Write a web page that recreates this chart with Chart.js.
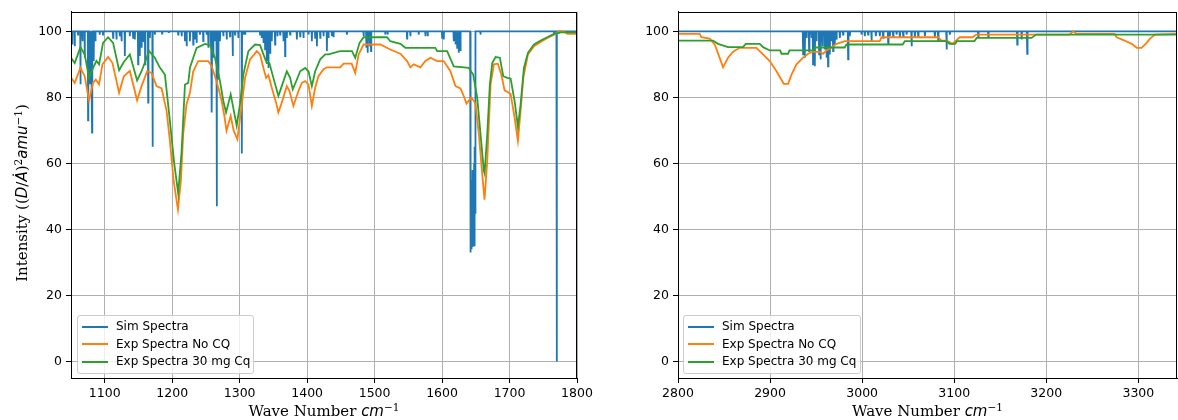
<!DOCTYPE html>
<html>
<head>
<meta charset="utf-8">
<script src="https://cdn.jsdelivr.net/npm/chart.js@4.4.0/dist/chart.umd.min.js"></script>
<style>
  body { margin: 0; background: #fff; }
  #fig { position: relative; width: 1178px; height: 420px; overflow: hidden; background: #fff; }
  .panel { position: absolute; top: 0; }
  .xtitle { position: absolute; top: 402px; height: 18px; line-height: 18px; font: 15px 'DejaVu Serif'; text-align: center; white-space: nowrap; color: #000; }
  .ytitle { position: absolute; left: -108px; top: 184px; width: 260px; height: 18px; line-height: 18px; font: 15px 'DejaVu Serif'; text-align: center; white-space: nowrap; transform: rotate(-90deg); color: #000; }
  .m { font-family: 'DejaVu Sans'; font-style: italic; }
  sup { font-size: 70%; line-height: 0; vertical-align: 0.5em; }
  .legend { position: absolute; top: 315px; height: 55px; padding-top: 2px; box-sizing: content-box; border: 1px solid #cccccc; border-radius: 3px; background: rgba(255,255,255,0.8); font: 12px 'DejaVu Sans'; color: #000; }
  .legend div { height: 17.5px; line-height: 17.5px; white-space: nowrap; }
  .legend span { display: inline-block; width: 26px; height: 2px; vertical-align: middle; margin: 0 8px 0 4px; }
</style>
</head>
<body>
<div id="fig">
  <canvas id="left" class="panel" style="left:0" width="600" height="420"></canvas>
  <canvas id="right" class="panel" style="left:600px" width="578" height="420"></canvas>

  <div class="ytitle">Intensity ((<span class="m">D</span>/<span class="m">Ȧ</span>)<sup>2</sup><span class="m">amu</span><sup>−1</sup>)</div>
  <div class="xtitle" style="left:71px;width:506px">Wave Number <span class="m">cm</span><sup>−1</sup></div>
  <div class="xtitle" style="left:678px;width:499px">Wave Number <span class="m">cm</span><sup>−1</sup></div>

  <div class="legend" id="legLeft" style="left:77px;width:175px"></div>
  <div class="legend" id="legRight" style="left:683px;width:176px"></div>
</div>

<script>
// ticks
const xTicksLeft = [1100, 1200, 1300, 1400, 1500, 1600, 1700, 1800];
const xTicksRight = [2800, 2900, 3000, 3100, 3200, 3300];
const yTicks = [0, 20, 40, 60, 80, 100];
const seriesNames = ['Sim Spectra', 'Exp Spectra No CQ', 'Exp Spectra 30 mg Cq'];

// simulated spectrum, 1050-1800
const simLeft = [
  [1050,100],
  [1051.6,100],[1052,96],[1052.4,100],
  [1055.1,100],[1055.5,95.5],[1055.9,100],
  [1060,100],[1060.4,99],[1060.8,100],
  [1063.6,100],[1064,84],[1064.4,100],
  [1066.6,100],[1067,97],[1067.4,100],
  [1069.9,100],[1070.3,92],[1070.7,100],
  [1074.9,100],[1075.3,73],[1075.7,100],
  [1077.4,100],[1077.8,84],[1078.2,100],
  [1078.9,100],[1079.3,90],[1079.7,100],
  [1080.8,100],[1081.2,69.3],[1081.6,100],
  [1083.3,100],[1083.7,91],[1084.1,100],
  [1085.8,100],[1086.2,97],[1086.6,100],
  [1092.2,100],[1092.6,99],[1093,100],
  [1097.1,100],[1097.5,99],[1097.9,100],
  [1112,100],[1112.4,98],[1112.8,100],
  [1117,100],[1117.4,97.5],[1117.8,100],
  [1121.9,100],[1122.3,98.5],[1122.7,100],
  [1124.5,100],[1124.9,97],[1125.3,100],
  [1129.4,100],[1129.8,92.5],[1130.2,100],
  [1136.8,100],[1137.2,98.5],[1137.6,100],
  [1141.7,100],[1142.1,98],[1142.5,100],
  [1144.2,100],[1144.6,97.5],[1145,100],
  [1149.1,100],[1149.5,90],[1149.9,100],
  [1151.6,100],[1152,92.5],[1152.4,100],
  [1154.2,100],[1154.6,95],[1155,100],
  [1156.5,100],[1156.9,97],[1157.3,100],
  [1159.5,100],[1159.9,90],[1160.3,100],
  [1164,100],[1164.4,78.4],[1164.8,100],
  [1166.5,100],[1166.9,98],[1167.3,100],
  [1170.5,100],[1170.9,65],[1171.3,100],
  [1173.9,100],[1174.3,99],[1174.7,100],
  [1184.6,100],[1185,99.3],[1185.4,100],
  [1194.6,100],[1195,99.5],[1195.4,100],
  [1208.5,100],[1208.9,99],[1209.3,100],
  [1213.6,100],[1214,98.5],[1214.4,100],
  [1218.5,100],[1218.9,97],[1219.3,100],
  [1221,100],[1221.4,95.5],[1221.8,100],
  [1225.9,100],[1226.3,97],[1226.7,100],
  [1230.8,100],[1231.2,96],[1231.6,100],
  [1233.3,100],[1233.7,97.5],[1234.1,100],
  [1235.8,100],[1236.2,96.5],[1236.6,100],
  [1240.7,100],[1241.1,99],[1241.5,100],
  [1245.6,100],[1246,97],[1246.4,100],
  [1250.7,100],[1251.1,99],[1251.5,100],
  [1253.1,100],[1253.5,95],[1253.9,100],
  [1256.6,100],[1257,96],[1257.7,100],[1258.5,75.4],[1259.2,100],
  [1260.5,100],[1260.9,92],[1261.3,100],
  [1263,100],[1263.4,97],[1263.8,100],
  [1265.6,100],[1266,47],[1266.4,100],
  [1268,100],[1268.4,85.4],[1268.8,100],
  [1270.4,100],[1270.8,97],[1271.2,100],
  [1275.4,100],[1275.8,98.5],[1276.2,100],
  [1280.4,100],[1280.8,97.5],[1281.2,100],
  [1285.3,100],[1285.7,98.5],[1286.1,100],
  [1289.3,100],[1289.7,92.5],[1290.1,100],
  [1292.7,100],[1293.1,99],[1293.5,100],
  [1297.6,100],[1298,98],[1298.4,100],
  [1302.8,100],[1303.2,63],[1303.6,100],
  [1305.1,100],[1305.5,99],[1305.9,100],
  [1307.6,100],[1308,99.2],[1308.4,100],
  [1329.9,100],[1330.3,99],[1330.7,100],
  [1332.4,100],[1332.8,98],[1333.2,100],
  [1334.8,100],[1335.2,96.5],[1335.6,100],
  [1337.3,100],[1337.7,94.5],[1338.1,100],
  [1339.8,100],[1340.2,91],[1340.6,100],
  [1342.2,100],[1342.6,88.9],[1343,100],
  [1344.7,100],[1345.1,93.5],[1345.5,100],
  [1347.2,100],[1347.6,97],[1348,100],
  [1352.1,100],[1352.5,96],[1352.9,100],
  [1355.6,100],[1356,98.5],[1356.4,100],
  [1359.6,100],[1360,99],[1360.4,100],
  [1364.5,100],[1364.9,97],[1365.3,100],
  [1367,100],[1367.4,92.5],[1367.8,100],
  [1369.5,100],[1369.9,98],[1370.3,100],
  [1374.4,100],[1374.8,99],[1375.2,100],
  [1384.4,100],[1384.8,97.5],[1385.2,100],
  [1389.3,100],[1389.7,98.5],[1390.1,100],
  [1394.2,100],[1394.6,98],[1395,100],
  [1401.6,100],[1402,99],[1402.4,100],
  [1406.6,100],[1407,97],[1407.4,100],
  [1411.5,100],[1411.9,98],[1412.3,100],
  [1414.1,100],[1414.5,95.5],[1414.9,100],
  [1419,100],[1419.4,98],[1419.8,100],
  [1423.9,100],[1424.3,98.5],[1424.7,100],
  [1428.9,100],[1429.3,94],[1429.7,100],
  [1431.3,100],[1431.7,98],[1432.1,100],
  [1436.3,100],[1436.7,98.5],[1437.1,100],
  [1438.7,100],[1439.1,98.2],[1439.5,100],
  [1458.6,100],[1459,99],[1459.4,100],
  [1483.3,100],[1483.7,98.5],[1484.1,100],
  [1487.3,100],[1487.7,95],[1488.1,100],
  [1489.2,100],[1489.6,93.5],[1490,100],
  [1492.2,100],[1492.6,95.5],[1493,100],
  [1494.3,100],[1494.7,94],[1495.1,100],
  [1515.5,100],[1515.9,99],[1516.3,100],
  [1518.9,100],[1519.3,99],[1519.7,100],
  [1547.7,100],[1548.1,97.8],[1548.5,100],
  [1552.6,100],[1553,98.5],[1553.4,100],
  [1565,100],[1565.4,99],[1565.8,100],
  [1574.9,100],[1575.3,98.5],[1575.7,100],
  [1578.3,100],[1578.7,98.5],[1579.1,100],
  [1599.7,100],[1600.1,98],[1600.5,100],
  [1602.1,100],[1602.5,97.5],[1602.9,100],
  [1616.9,100],[1617.3,97],[1617.7,100],
  [1619.5,100],[1619.9,96],[1620.3,100],
  [1622,100],[1622.4,95],[1622.8,100],
  [1624.4,100],[1624.8,93.5],[1625.2,100],
  [1626.9,100],[1627.3,94],[1627.7,100],
  [1641.6,100],[1642,33],[1642.5,60],[1643,36],[1643.5,55],[1644,34],[1644.5,52],[1645,40],
  [1645.5,58],[1646,35],[1646.5,55],[1647,38],[1647.5,60],[1648,35],[1648.5,65],[1649,45],[1649.5,100],
  [1656.6,100],[1657,99],[1657.4,100],
  [1765.6,100],[1766,99.5],[1766.4,100],
  [1769.5,100],[1769.9,0],[1770.3,100],
  [1771.6,100],[1772,99.5],[1772.4,100],
  [1800,100]
];

// experiment without CQ, 1050-1800
const noCqLeft = [
  [1050,86],[1055.5,84.4],[1064,89],[1070.3,86.4],[1076.7,79.1],[1082.7,84.4],[1086.7,85.4],
  [1091.6,83.9],[1096.6,90],[1105,92.2],[1111.5,90.4],[1121.3,81.4],[1128.3,86.4],[1137.2,88],
  [1148,79.1],[1154.6,83.4],[1162.9,87.9],[1169.4,87.4],[1176.8,83.4],[1184.3,82.7],[1191.7,75.9],
  [1196.6,66.8],[1202,55],[1208.5,46],[1213,55],[1216.3,68.9],[1221.3,78],[1226.3,81.4],
  [1231.2,87.9],[1238.6,91],[1253.5,91],[1258.5,89.4],[1263.4,86.4],[1268.4,82.9],[1273.3,78.9],
  [1277.3,74.4],[1280.5,69.9],[1286.7,74.4],[1291,70],[1296.6,67.3],[1303.1,77.9],[1308,85.9],
  [1315.4,91.5],[1325.4,94],[1330.3,93],[1335.2,88.9],[1339.2,85.9],[1342.6,86.7],[1347.6,82.9],
  [1354,78.4],[1357.4,75.4],[1362.4,78.4],[1369.9,83.4],[1373.8,81.9],[1379.7,77.4],[1387.1,81.9],
  [1392.2,84.4],[1397.1,84.9],[1402,83.9],[1407,77.4],[1411.9,82.9],[1416.8,86.4],[1424.3,88.5],
  [1429.3,89.1],[1449,89.1],[1454,90.2],[1466,90.2],[1471.3,87.4],[1476.3,93],[1483.7,96],
  [1508.5,96],[1523.3,94.5],[1538.2,93.2],[1548.1,91],[1553,89.1],[1558,90],[1567.9,89.1],
  [1575.3,91],[1582.7,92],[1592.7,91],[1602.5,91],[1612.4,87.9],[1619.9,83.4],[1627.3,82.7],
  [1632.2,80.4],[1636.2,78.1],[1643.2,79.9],[1647.1,79],[1649.6,77.9],[1654.5,68.9],[1659.5,56.8],
  [1662.9,49],[1667,60.8],[1671.9,83.9],[1676.8,90],[1682.7,90.2],[1687.8,86.9],[1692.7,82.1],
  [1701.6,81.1],[1707.5,73.9],[1712.4,66.8],[1716.4,75.9],[1720.4,85.9],[1727.3,93],[1736.2,95.5],
  [1746.1,96.8],[1756,98],[1765.9,99],[1773.3,100],[1780,100],[1785.8,99.2],[1800,99.2]
];

// experiment with 30 mg CQ, 1050-1800
const cqLeft = [
  [1050,92],[1055.5,90.4],[1064,95.2],[1070.3,93],[1076.7,85.9],[1082.7,88.9],[1087.7,91],
  [1091.6,90],[1097.5,96.5],[1105,98.2],[1112.4,96.5],[1121.3,88.2],[1128.3,90.7],[1137.2,93],
  [1148,85.1],[1154.6,87.9],[1165.9,94],[1174.3,92],[1181.7,89],[1189.2,86.9],[1196.6,72.9],
  [1203,60],[1208.9,50.9],[1214,63.8],[1218.9,83.9],[1223.8,84.4],[1226.3,89],[1231.2,92],
  [1236.2,95],[1248.6,96.2],[1256,95.8],[1263.4,92],[1270.8,84.9],[1275.8,78.9],[1279.8,75.4],
  [1286.7,80.9],[1295.6,71.4],[1300.5,78],[1305.5,86.9],[1312.9,94],[1322.8,96],[1330.3,95.8],
  [1335.2,93],[1340.2,90.4],[1344,90.4],[1350,85.9],[1357.4,80.4],[1362.4,83.4],[1369.9,87.9],
  [1374.8,85.9],[1378.7,82.4],[1384.8,85.4],[1389.7,87.9],[1397.1,88.9],[1402,87.9],[1407,83.4],
  [1411.9,87.9],[1419.4,91.5],[1426.8,93],[1431.7,93],[1449,94],[1466.4,94],[1471.3,92],
  [1477.7,96.5],[1483.7,98.2],[1518.4,98.2],[1523.3,97],[1538.2,96.2],[1545.7,95],[1590,95],
  [1592.7,94],[1607.5,94],[1611.4,92.2],[1617.3,89.4],[1639.6,88.9],[1646.1,86.9],[1652.1,79.9],
  [1657,68.9],[1661.9,57.8],[1663,57],[1667,68.9],[1670.8,83.9],[1674.4,90.4],[1679.3,92.2],
  [1685.7,92],[1690.7,86.4],[1696.6,85.9],[1701.6,85.7],[1707.5,78.9],[1712.4,71.1],[1716.4,77.9],
  [1721.3,88.9],[1727.3,93.5],[1736.2,96],[1746.1,97.2],[1756,98.2],[1765.9,99.2],[1775.8,99.7],
  [1800,99.7]
];

// simulated spectrum, 2800-3342
const simRight = [
  [2800,100],
  [2935.5,100],[2935.9,93],[2936.3,100],
  [2937.3,100],[2937.7,92],[2938.1,100],
  [2939.2,100],[2939.6,98],[2940,100],
  [2942,100],[2942.4,94],[2942.8,100],
  [2944.6,100],[2945,98],[2945.4,100],
  [2946.3,100],[2946.7,90],[2947.1,100],
  [2948.2,100],[2948.6,89.4],[2949,100],
  [2950,100],[2950.4,97],[2950.8,100],
  [2952.9,100],[2953.3,93],[2953.7,100],
  [2954.4,100],[2954.8,91.5],[2955.2,100],
  [2956.6,100],[2957,95.5],[2957.4,100],
  [2959.1,100],[2959.5,94.5],[2959.9,100],
  [2960.9,100],[2961.3,92],[2961.7,100],
  [2962.6,100],[2963,89.4],[2963.4,100],
  [2964.5,100],[2964.9,93],[2965.3,100],
  [2966.3,100],[2966.7,97],[2967.1,100],
  [2968.1,100],[2968.5,94],[2968.9,100],
  [2969.9,100],[2970.3,96],[2970.7,100],
  [2971.8,100],[2972.2,97.5],[2972.6,100],
  [2975.4,100],[2975.8,98],[2976.2,100],
  [2978.9,100],[2979.3,99],[2979.7,100],
  [2984.4,100],[2984.8,91.5],[2985.2,100],
  [2986.2,100],[2986.6,98.5],[2987,100],
  [2998.9,100],[2999.3,99],[2999.7,100],
  [3002.5,100],[3002.9,98.5],[3003.3,100],
  [3006.1,100],[3006.5,99],[3006.9,100],
  [3009.8,100],[3010.2,97],[3010.6,100],
  [3014.5,100],[3014.9,98.5],[3015.3,100],
  [3018.8,100],[3019.2,98.5],[3019.6,100],
  [3022.4,100],[3022.8,98],[3023.2,100],
  [3027.9,100],[3028.3,96.2],[3028.7,100],
  [3029.7,100],[3030.1,98.5],[3030.5,100],
  [3033.3,100],[3033.7,98.5],[3034.1,100],
  [3037,100],[3037.4,99],[3037.8,100],
  [3040.6,100],[3041,98],[3041.4,100],
  [3044.2,100],[3044.6,98.5],[3045,100],
  [3047.9,100],[3048.3,99],[3048.7,100],
  [3053.3,100],[3053.7,95.5],[3054.1,100],
  [3056.9,100],[3057.3,98],[3057.7,100],
  [3060.5,100],[3060.9,98.5],[3061.3,100],
  [3067.8,100],[3068.2,98.5],[3068.6,100],
  [3078.6,100],[3079,98],[3079.4,100],
  [3082.2,100],[3082.6,97.3],[3083,100],
  [3091.3,100],[3091.7,94.5],[3092.1,100],
  [3094.9,100],[3095.3,99],[3095.7,100],
  [3125.7,100],[3126.1,98.5],[3126.5,100],
  [3136.6,100],[3137,98.5],[3137.4,100],
  [3168.1,100],[3168.5,96],[3168.9,100],
  [3172.9,100],[3173.3,97.5],[3173.7,100],
  [3178.9,100],[3179.3,93.2],[3179.7,100],
  [3342,100]
];

// experiment without CQ, 2800-3342
const noCqRight = [
  [2800,99.2],[2823.6,99.2],[2825.4,98.2],[2834.5,97.8],[2839.9,96],[2844.6,92.5],[2848.9,89.1],
  [2854.3,92],[2859.8,93.8],[2867.1,95],[2885.2,95],[2890.7,93.5],[2899.7,91],[2907,87.9],
  [2914.9,84.1],[2919.6,84.1],[2923.3,86.9],[2928.7,90],[2935.9,92],[2941.3,93.2],[2946.7,93.8],
  [2954,93.8],[2957.6,93.2],[2961.3,94.2],[2968.5,95.5],[2972.2,96.2],[2981.2,97],[3019.2,97],
  [3021.1,98.2],[3082.6,98.2],[3086,97.2],[3092,97.2],[3098,96.2],[3102,97.2],[3106,98.2],
  [3120,98.2],[3124,99],[3225,99],[3229.3,100],[3233,99.2],[3274,99.2],[3276.5,98.2],[3285,97.2],
  [3292.8,96.2],[3298.3,95],[3303.5,95],[3308,96.2],[3312.7,97.8],[3318.2,99],[3342,99.2]
];

// experiment with 30 mg CQ, 2800-3342
const cqRight = [
  [2800,97.2],[2838,97.2],[2843.5,96.2],[2854.3,95.2],[2870.6,95.2],[2873.6,96.2],[2888.8,96.2],
  [2892.4,95.2],[2899.7,94.2],[2911,94.2],[2912.4,93.2],[2919.6,93.2],[2921,94.2],[2946.7,94.2],
  [2948.6,95.1],[2981,95.1],[2983,96],[3044,96],[3046.4,97],[3091.7,97],[3095,96.2],[3101,96.2],
  [3103,97],[3122,97],[3124.4,98],[3184,98],[3189,99],[3342,99]
];

const colors = ['#1f77b4', '#ff7f0e', '#2ca02c'];

// outer black frame like matplotlib spines
const framePlugin = {
  id: 'frame',
  afterDraw(chart) {
    const { ctx, chartArea: a } = chart;
    ctx.save();
    ctx.strokeStyle = '#000';
    ctx.lineWidth = 1;
    ctx.strokeRect(Math.round(a.left) + 0.5, Math.round(a.top) + 0.5,
      Math.round(a.right - a.left) - 1, Math.round(a.bottom - a.top) - 1);
    ctx.restore();
  }
};

function toPoints(arr) {
  return arr.map(p => ({ x: p[0], y: p[1] }));
}

function makeChart(id, xMin, xMax, xTicks, yWidth, padRight, sim, noCq, cq) {
  const series = [sim, noCq, cq];
  new Chart(document.getElementById(id), {
    type: 'line',
    data: {
      datasets: series.map((s, i) => ({
        label: seriesNames[i],
        data: toPoints(s),
        borderColor: colors[i],
        backgroundColor: colors[i],
        borderWidth: 1.8,
        pointRadius: 0,
        tension: 0,
        fill: false,
        order: 3 - i
      }))
    },
    options: {
      responsive: false,
      animation: false,
      devicePixelRatio: 1,
      layout: { padding: { top: 10, right: padRight, bottom: 0, left: 0 } },
      plugins: { legend: { display: false }, tooltip: { enabled: false } },
      scales: {
        x: {
          type: 'linear',
          min: xMin,
          max: xMax,
          afterBuildTicks: s => { s.ticks = xTicks.map(v => ({ value: v })); },
          afterFit: s => { s.height = 42; },
          grid: { color: '#b0b0b0', lineWidth: 1, tickLength: 5, tickColor: '#000' },
          border: { color: '#000', width: 1 },
          ticks: { color: '#000', font: { family: 'DejaVu Sans', size: 12.5 }, padding: 3, maxRotation: 0, autoSkip: false,
                   callback: v => String(v) }
        },
        y: {
          type: 'linear',
          min: -5,
          max: 106,
          afterBuildTicks: s => { s.ticks = yTicks.map(v => ({ value: v })); },
          afterFit: s => { s.width = yWidth; },
          grid: { color: '#b0b0b0', lineWidth: 1, tickLength: 5, tickColor: '#000' },
          border: { color: '#000', width: 1 },
          ticks: { color: '#000', font: { family: 'DejaVu Sans', size: 12.5 }, padding: 4, autoSkip: false,
                   callback: v => String(v) }
        }
      }
    },
    plugins: [framePlugin]
  });
}

makeChart('left', 1050, 1800, xTicksLeft, 71, 23, simLeft, noCqLeft, cqLeft);
makeChart('right', 2800, 3342, xTicksRight, 78, 1, simRight, noCqRight, cqRight);

// legends
['legLeft', 'legRight'].forEach(id => {
  const box = document.getElementById(id);
  seriesNames.forEach((name, i) => {
    const row = document.createElement('div');
    const sw = document.createElement('span');
    sw.style.background = colors[i];
    row.appendChild(sw);
    row.appendChild(document.createTextNode(name));
    box.appendChild(row);
  });
});
</script>
</body>
</html>
